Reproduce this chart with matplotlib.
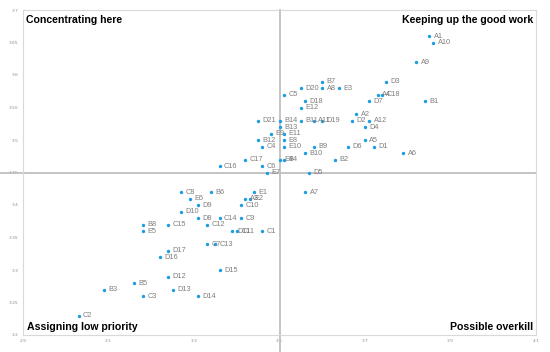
import matplotlib
matplotlib.use("Agg")
import matplotlib.pyplot as plt

# ---------- data ----------
labels = [
    "A1", "A10", "A9", "D3", "B7", "D20", "A8", "E3", "C5", "A4", "C18",
    "D18", "D7", "B1", "E12", "A2", "D21", "B14", "B11", "A11", "D19",
    "D2", "A12", "B13", "D4", "E9", "E11", "B12", "E8", "A5", "C4", "E10",
    "B9", "D6", "D1", "B10", "A6", "C17", "E4", "B4", "B2", "C16", "C6",
    "E7", "D5",
    "C8", "B6", "E1", "A7", "E6", "A3", "E2", "D9", "C10", "D10", "D8",
    "C14", "C9", "B8", "C15", "C12", "E5", "D11", "C11", "C1", "C7", "C13",
    "D17", "D16", "D15", "D12", "B5", "B3", "D13", "C3", "D14", "C2",
]
x_vals = [
    3.85, 3.86, 3.82, 3.75, 3.60, 3.55, 3.60, 3.64, 3.51, 3.73, 3.74,
    3.56, 3.71, 3.84, 3.55, 3.68, 3.45, 3.50, 3.55, 3.58, 3.60,
    3.67, 3.71, 3.50, 3.70, 3.48, 3.51, 3.45, 3.51, 3.70, 3.46, 3.51,
    3.58, 3.66, 3.72, 3.56, 3.79, 3.42, 3.50, 3.51, 3.63, 3.36, 3.46,
    3.47, 3.57,
    3.27, 3.34, 3.44, 3.56, 3.29, 3.42, 3.43, 3.31, 3.41, 3.27, 3.31,
    3.36, 3.41, 3.18, 3.24, 3.33, 3.18, 3.39, 3.40, 3.46, 3.33, 3.35,
    3.24, 3.22, 3.36, 3.24, 3.16, 3.09, 3.25, 3.18, 3.31, 3.03,
]
y_vals = [
    3.66, 3.65, 3.62, 3.59, 3.59, 3.58, 3.58, 3.58, 3.57, 3.57, 3.57,
    3.56, 3.56, 3.56, 3.55, 3.54, 3.53, 3.53, 3.53, 3.53, 3.53,
    3.53, 3.53, 3.52, 3.52, 3.51, 3.51, 3.50, 3.50, 3.50, 3.49, 3.49,
    3.49, 3.49, 3.49, 3.48, 3.48, 3.47, 3.47, 3.47, 3.47, 3.46, 3.46,
    3.45, 3.45,
    3.42, 3.42, 3.42, 3.42, 3.41, 3.41, 3.41, 3.40, 3.40, 3.39, 3.38,
    3.38, 3.38, 3.37, 3.37, 3.37, 3.36, 3.36, 3.36, 3.36, 3.34, 3.34,
    3.33, 3.32, 3.30, 3.29, 3.28, 3.27, 3.27, 3.26, 3.26, 3.23,
]

x_ticks = [2.9, 3.1, 3.3, 3.5, 3.7, 3.9, 4.1]
y_ticks = [3.2, 3.25, 3.3, 3.35, 3.4, 3.45, 3.5, 3.55, 3.6, 3.65, 3.7]
x_split, y_split = 3.5, 3.45

quadrants = ["Concentrating here", "Keeping up the good work",
             "Assigning low priority", "Possible overkill"]

# ---------- figure ----------
fig = plt.figure(figsize=(5.5, 3.52), dpi=100)
ax = fig.add_axes([23 / 550, 1 - 335 / 352, 513 / 550, 325 / 352])

ax.scatter(x_vals, y_vals, s=6, color="#1b9de2", linewidths=0, zorder=3)
for lab, xv, yv in zip(labels, x_vals, y_vals):
    ax.annotate(lab, (xv, yv), xytext=(3.2, -0.3), textcoords="offset points",
                ha="left", va="center", fontsize=5.3, color="#7f7f7f",
                family="Liberation Sans")

ax.set_xlim(2.9, 4.1)
ax.set_ylim(3.2, 3.7)
ax.set_xticks(x_ticks)
ax.set_yticks(y_ticks)
ax.set_xticklabels([f"{v:g}" for v in x_ticks])
ax.set_yticklabels([f"{v:g}" for v in y_ticks])
ax.tick_params(length=0, labelsize=3.2, labelcolor="#8c8c8c", pad=3)

for sp in ax.spines.values():
    sp.set_color("#d9d9d9")
    sp.set_linewidth(0.8)

# quadrant split lines (run a little past the plot area, like Excel axes)
ax.axvline(x_split, ymin=-0.055, ymax=1.0, color="#bfbfbf", lw=1.3,
           clip_on=False, zorder=2)
ax.axhline(y_split, xmin=-0.045, xmax=1.0, color="#bfbfbf", lw=1.3,
           clip_on=False, zorder=2)

qkw = dict(fontsize=7.6, fontweight="bold", color="black",
           family=["Liberation Sans Narrow", "Liberation Sans"])
ax.text(0.006, 0.985, quadrants[0], transform=ax.transAxes, ha="left", va="top", **qkw)
ax.text(0.994, 0.985, quadrants[1], transform=ax.transAxes, ha="right", va="top", **qkw)
ax.text(0.008, 0.01, quadrants[2], transform=ax.transAxes, ha="left", va="bottom", **qkw)
ax.text(0.994, 0.01, quadrants[3], transform=ax.transAxes, ha="right", va="bottom", **qkw)

fig.savefig("out.png", dpi=100, facecolor="white")
